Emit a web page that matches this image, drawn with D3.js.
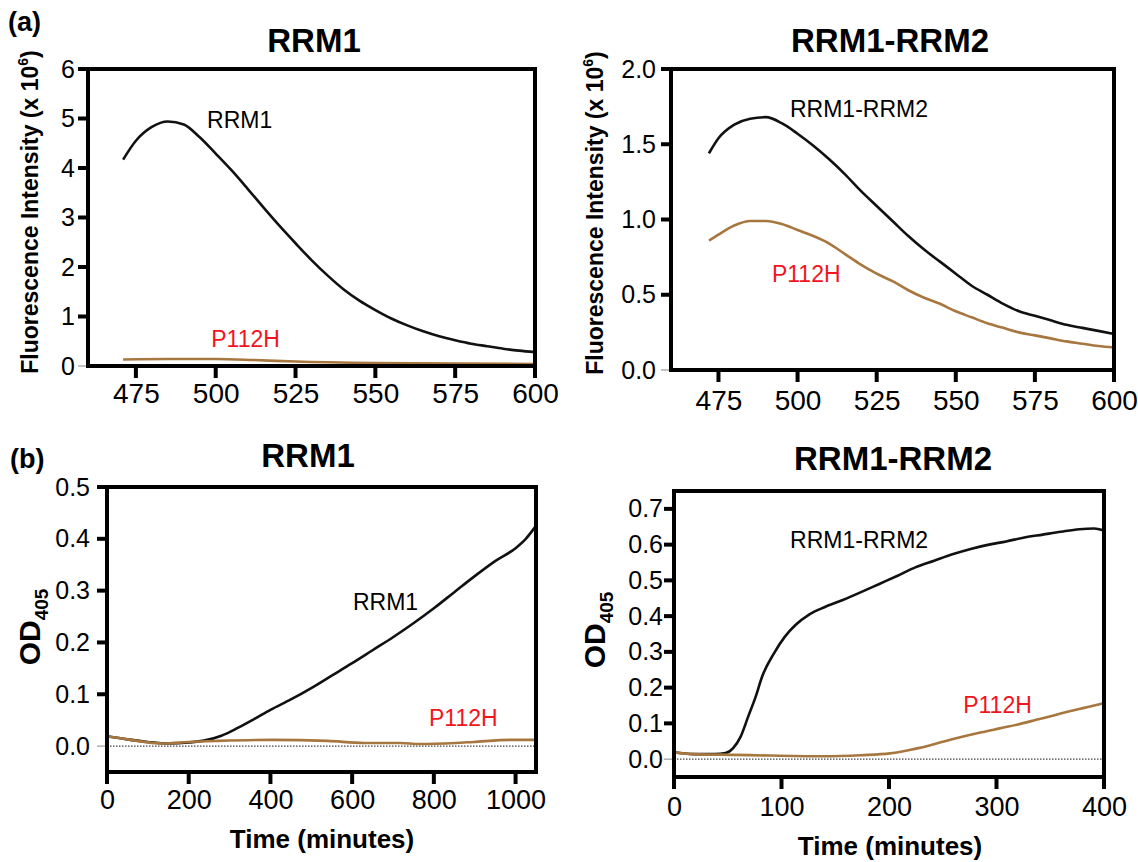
<!DOCTYPE html>
<html>
<head>
<meta charset="utf-8">
<script src="https://cdn.jsdelivr.net/npm/d3@7"></script>
<style>
  body { margin: 0; background: #fff; }
  svg { display: block; }
  text { font-family: "Liberation Sans", Arial, sans-serif; }
</style>
</head>
<body>
<svg id="fig" width="1138" height="862"></svg>
<script>
// ---- (a) fluorescence spectra, wavelength (nm) vs intensity (x 10^6)
let specWlRRM1 = [471, 475, 480, 485, 490, 495, 500, 505, 510, 515, 520, 525, 530, 535, 540, 545, 550, 555, 560, 565, 570, 575, 580, 585, 590, 595, 600]
let specRRM1 = [4.17, 4.55, 4.83, 4.94, 4.88, 4.62, 4.29, 3.95, 3.58, 3.20, 2.83, 2.48, 2.14, 1.83, 1.55, 1.32, 1.13, 0.96, 0.82, 0.70, 0.60, 0.52, 0.45, 0.40, 0.35, 0.31, 0.28]
let specWlP112H_1 = [471, 485, 500, 512, 525, 550, 575, 600]
let specP112H_1 = [0.13, 0.14, 0.14, 0.12, 0.09, 0.06, 0.05, 0.04]

let specWlRRM12 = [472, 475, 480, 485, 490, 495, 500, 505, 510, 515, 520, 525, 530, 535, 540, 545, 550, 555, 560, 565, 570, 575, 580, 585, 590, 595, 600]
let specRRM12 = [1.44, 1.54, 1.63, 1.67, 1.68, 1.64, 1.57, 1.49, 1.40, 1.30, 1.19, 1.09, 0.99, 0.89, 0.80, 0.72, 0.64, 0.56, 0.50, 0.44, 0.39, 0.36, 0.33, 0.30, 0.28, 0.26, 0.24]
let specWlP112H_12 = [472, 475, 480, 485, 490, 495, 500, 505, 510, 515, 520, 525, 530, 535, 540, 545, 550, 555, 560, 565, 570, 575, 580, 585, 590, 595, 600]
let specP112H_12 = [0.86, 0.90, 0.96, 0.99, 0.99, 0.97, 0.93, 0.89, 0.84, 0.77, 0.70, 0.64, 0.59, 0.53, 0.48, 0.44, 0.39, 0.35, 0.31, 0.28, 0.25, 0.23, 0.21, 0.19, 0.175, 0.16, 0.15]

// ---- (b) OD405 over time (minutes)
let timeRRM1 = [0, 50, 100, 150, 200, 240, 280, 320, 360, 400, 450, 500, 550, 600, 650, 700, 750, 800, 850, 900, 950, 1000, 1025, 1049]
let odRRM1 = [0.019, 0.013, 0.008, 0.005, 0.007, 0.011, 0.020, 0.035, 0.052, 0.070, 0.090, 0.112, 0.136, 0.160, 0.185, 0.210, 0.237, 0.266, 0.297, 0.328, 0.357, 0.382, 0.400, 0.424]
let timeP112H_1 = [0, 49, 138, 200, 272, 406, 540, 629, 719, 763, 853, 897, 987, 1049]
let odP112H_1 = [0.019, 0.013, 0.005, 0.008, 0.010, 0.012, 0.010, 0.006, 0.006, 0.004, 0.006, 0.008, 0.012, 0.012]

let timeRRM12 = [0, 18, 38, 48, 55, 62, 69, 76, 82, 93, 103, 113, 126, 140, 157, 174, 191, 208, 225, 242, 259, 276, 293, 309, 326, 343, 360, 377, 391, 399]
let odRRM12 = [0.019, 0.014, 0.014, 0.017, 0.031, 0.063, 0.119, 0.175, 0.231, 0.296, 0.342, 0.375, 0.405, 0.425, 0.445, 0.467, 0.490, 0.513, 0.537, 0.555, 0.573, 0.588, 0.600, 0.609, 0.620, 0.628, 0.636, 0.643, 0.645, 0.640]
let timeP112H_12 = [0, 18, 55, 89, 140, 174, 201, 218, 235, 252, 269, 286, 303, 320, 337, 354, 371, 384, 399]
let odP112H_12 = [0.019, 0.014, 0.012, 0.010, 0.008, 0.011, 0.016, 0.025, 0.036, 0.050, 0.063, 0.075, 0.086, 0.097, 0.110, 0.123, 0.136, 0.145, 0.156]

// tick values
let wlTicks = [475, 500, 525, 550, 575, 600]
let fluorTicks1 = [0, 1, 2, 3, 4, 5, 6]
let fluorTicks12 = [0, 0.5, 1.0, 1.5, 2.0]
let timeTicks1 = [0, 200, 400, 600, 800, 1000]
let timeTicks12 = [0, 100, 200, 300, 400]
let odTicks1 = [0, 0.1, 0.2, 0.3, 0.4, 0.5]
let odTicks12 = [0, 0.1, 0.2, 0.3, 0.4, 0.5, 0.6, 0.7]

const BLACK = '#111'
const BROWN = '#a8773f'
const RED = '#f2141c'

let svg = d3.select('#fig')

function zip(xs, ys) {
    return xs.map((x, i) => ({ x: x, y: ys[i] }))
}

function drawPanel(p) {
    let x = d3.scaleLinear().domain(p.xDomain).range([p.left, p.right])
    let y = d3.scaleLinear().domain(p.yDomain).range([p.bottom, p.top])
    let g = svg.append('g')

    // dotted zero line
    if (p.zeroLine) {
        g.append('line')
            .attr('x1', p.left).attr('x2', p.right)
            .attr('y1', y(0)).attr('y2', y(0))
            .attr('stroke', '#444')
            .attr('stroke-width', 1.2)
            .attr('stroke-dasharray', '1.5,1.5')
    }

    let line = d3.line()
        .x(d => x(d.x))
        .y(d => y(d.y))
        .curve(d3.curveMonotoneX)

    p.series.forEach(s => {
        g.append('path')
            .datum(zip(s.xs, s.ys))
            .attr('d', line)
            .attr('fill', 'none')
            .attr('stroke', s.color)
            .attr('stroke-width', 2.6)
            .attr('stroke-linejoin', 'round')
    })

    // axes: d3 gives the labels, marks are drawn as filled rects below
    let xAxis = g.append('g')
        .attr('transform', `translate(0,${p.bottom})`)
        .call(d3.axisBottom(x).tickValues(p.xTicks).tickSize(12).tickPadding(p.xPad).tickFormat(d3.format('d')))
    xAxis.select('.domain').remove()
    xAxis.selectAll('.tick line').remove()
    xAxis.selectAll('text').attr('font-size', p.xFont).attr('fill', '#000')
        .attr('font-family', '"Liberation Sans", Arial, sans-serif')

    let yAxis = g.append('g')
        .attr('transform', `translate(${p.left},0)`)
        .call(d3.axisLeft(y).tickValues(p.yTicks).tickSize(10).tickPadding(p.yPad).tickFormat(d3.format(p.yFormat)))
    yAxis.select('.domain').remove()
    yAxis.selectAll('.tick line').remove()
    yAxis.selectAll('text').attr('font-size', 25).attr('fill', '#000')
        .attr('font-family', '"Liberation Sans", Arial, sans-serif')

    g.append('g').selectAll('rect')
        .data(p.xTicks)
        .join('rect')
        .attr('x', d => x(d) - 2).attr('y', p.bottom)
        .attr('width', 4).attr('height', 12)
        .attr('fill', '#000')

    g.append('g').selectAll('rect')
        .data(p.yTicks)
        .join('rect')
        .attr('x', p.left - 10)
        .attr('y', d => y(d) - (d === 0 ? 0.5 : 2))
        .attr('width', 10)
        .attr('height', d => d === 0 ? 1 : 4)
        .attr('fill', d => d === 0 ? '#888' : '#000')

    // frame
    g.append('rect')
        .attr('x', p.left).attr('y', p.top)
        .attr('width', p.right - p.left).attr('height', p.bottom - p.top)
        .attr('fill', 'none')
        .attr('stroke', '#000')
        .attr('stroke-width', 4)

    // title
    g.append('text')
        .attr('x', p.titleX).attr('y', p.titleY)
        .attr('text-anchor', 'middle')
        .attr('font-size', 33).attr('font-weight', 'bold')
        .text(p.title)

    // y label
    let yl = g.append('text')
        .attr('transform', `translate(${p.yLabelX},${p.yLabelY}) rotate(-90)`)
        .attr('text-anchor', 'middle')
        .attr('font-weight', 'bold')
    if (p.yLabelKind === 'fluor') {
        yl.attr('font-size', 23)
        yl.append('tspan').text('Fluorescence Intensity (x 10')
        yl.append('tspan').attr('font-size', 14).attr('dy', -10).text('6')
        yl.append('tspan').attr('dy', 10).text(')')
    } else {
        yl.attr('font-size', 30)
        yl.append('tspan').text('OD')
        yl.append('tspan').attr('font-size', 19).attr('dy', 8).text('405')
    }

    // x label
    if (p.xLabel) {
        g.append('text')
            .attr('x', p.xLabelX).attr('y', p.xLabelY)
            .attr('text-anchor', 'middle')
            .attr('font-size', 26).attr('font-weight', 'bold')
            .text(p.xLabel)
    }

    // curve annotations
    p.notes.forEach(n => {
        g.append('text')
            .attr('x', x(n.x)).attr('y', y(n.y))
            .attr('font-size', 23)
            .attr('fill', n.color)
            .text(n.text)
    })
}

drawPanel({
    left: 88, right: 535, top: 69, bottom: 366,
    xDomain: [460, 600], yDomain: [0, 6],
    xTicks: wlTicks, yTicks: fluorTicks1, yFormat: 'd',
    xPad: 5, yPad: 3, xFont: 28,
    title: 'RRM1', titleX: 314, titleY: 52,
    yLabelKind: 'fluor', yLabelX: 38, yLabelY: 212,
    series: [
        { xs: specWlP112H_1, ys: specP112H_1, color: BROWN },
        { xs: specWlRRM1, ys: specRRM1, color: BLACK }
    ],
    notes: [
        { text: 'RRM1', x: 497.3, y: 4.81, color: '#000' },
        { text: 'P112H', x: 498.6, y: 0.38, color: RED }
    ]
})

drawPanel({
    left: 671, right: 1114, top: 69, bottom: 370,
    xDomain: [460, 600], yDomain: [0, 2],
    xTicks: wlTicks, yTicks: fluorTicks12, yFormat: '.1f',
    xPad: 8, yPad: 5, xFont: 28,
    title: 'RRM1-RRM2', titleX: 890, titleY: 52,
    yLabelKind: 'fluor', yLabelX: 603, yLabelY: 213,
    series: [
        { xs: specWlP112H_12, ys: specP112H_12, color: BROWN },
        { xs: specWlRRM12, ys: specRRM12, color: BLACK }
    ],
    notes: [
        { text: 'RRM1-RRM2', x: 497.6, y: 1.68, color: '#000' },
        { text: 'P112H', x: 491.9, y: 0.585, color: RED }
    ]
})

drawPanel({
    left: 107, right: 536, top: 487, bottom: 772,
    xDomain: [0, 1050], yDomain: [-0.05, 0.5],
    xTicks: timeTicks1, yTicks: odTicks1, yFormat: '.1f',
    xPad: 6, yPad: 7, xFont: 27, zeroLine: true,
    title: 'RRM1', titleX: 308, titleY: 467,
    yLabelKind: 'od', yLabelX: 40, yLabelY: 627,
    xLabel: 'Time (minutes)', xLabelX: 322, xLabelY: 848,
    series: [
        { xs: timeRRM1, ys: odRRM1, color: BLACK },
        { xs: timeP112H_1, ys: odP112H_1, color: BROWN }
    ],
    notes: [
        { text: 'RRM1', x: 602, y: 0.263, color: '#000' },
        { text: 'P112H', x: 788, y: 0.038, color: RED }
    ]
})

drawPanel({
    left: 674, right: 1104, top: 491, bottom: 777,
    xDomain: [0, 400], yDomain: [-0.05, 0.75],
    xTicks: timeTicks12, yTicks: odTicks12, yFormat: '.1f',
    xPad: 8, yPad: 1, xFont: 27, zeroLine: true,
    title: 'RRM1-RRM2', titleX: 893, titleY: 470,
    yLabelKind: 'od', yLabelX: 605, yLabelY: 630,
    xLabel: 'Time (minutes)', xLabelX: 890, xLabelY: 855,
    series: [
        { xs: timeRRM12, ys: odRRM12, color: BLACK },
        { xs: timeP112H_12, ys: odP112H_12, color: BROWN }
    ],
    notes: [
        { text: 'RRM1-RRM2', x: 108, y: 0.591, color: '#000' },
        { text: 'P112H', x: 269, y: 0.129, color: RED }
    ]
})

// panel letters
svg.append('text').attr('x', 8).attr('y', 31)
    .attr('font-family', '"Liberation Serif", "Times New Roman", serif')
    .attr('font-size', 27).attr('font-weight', 'bold')
    .text('(a)')
svg.append('text').attr('x', 10).attr('y', 468)
    .attr('font-family', '"Liberation Serif", "Times New Roman", serif')
    .attr('font-size', 27).attr('font-weight', 'bold')
    .text('(b)')
</script>
</body>
</html>
